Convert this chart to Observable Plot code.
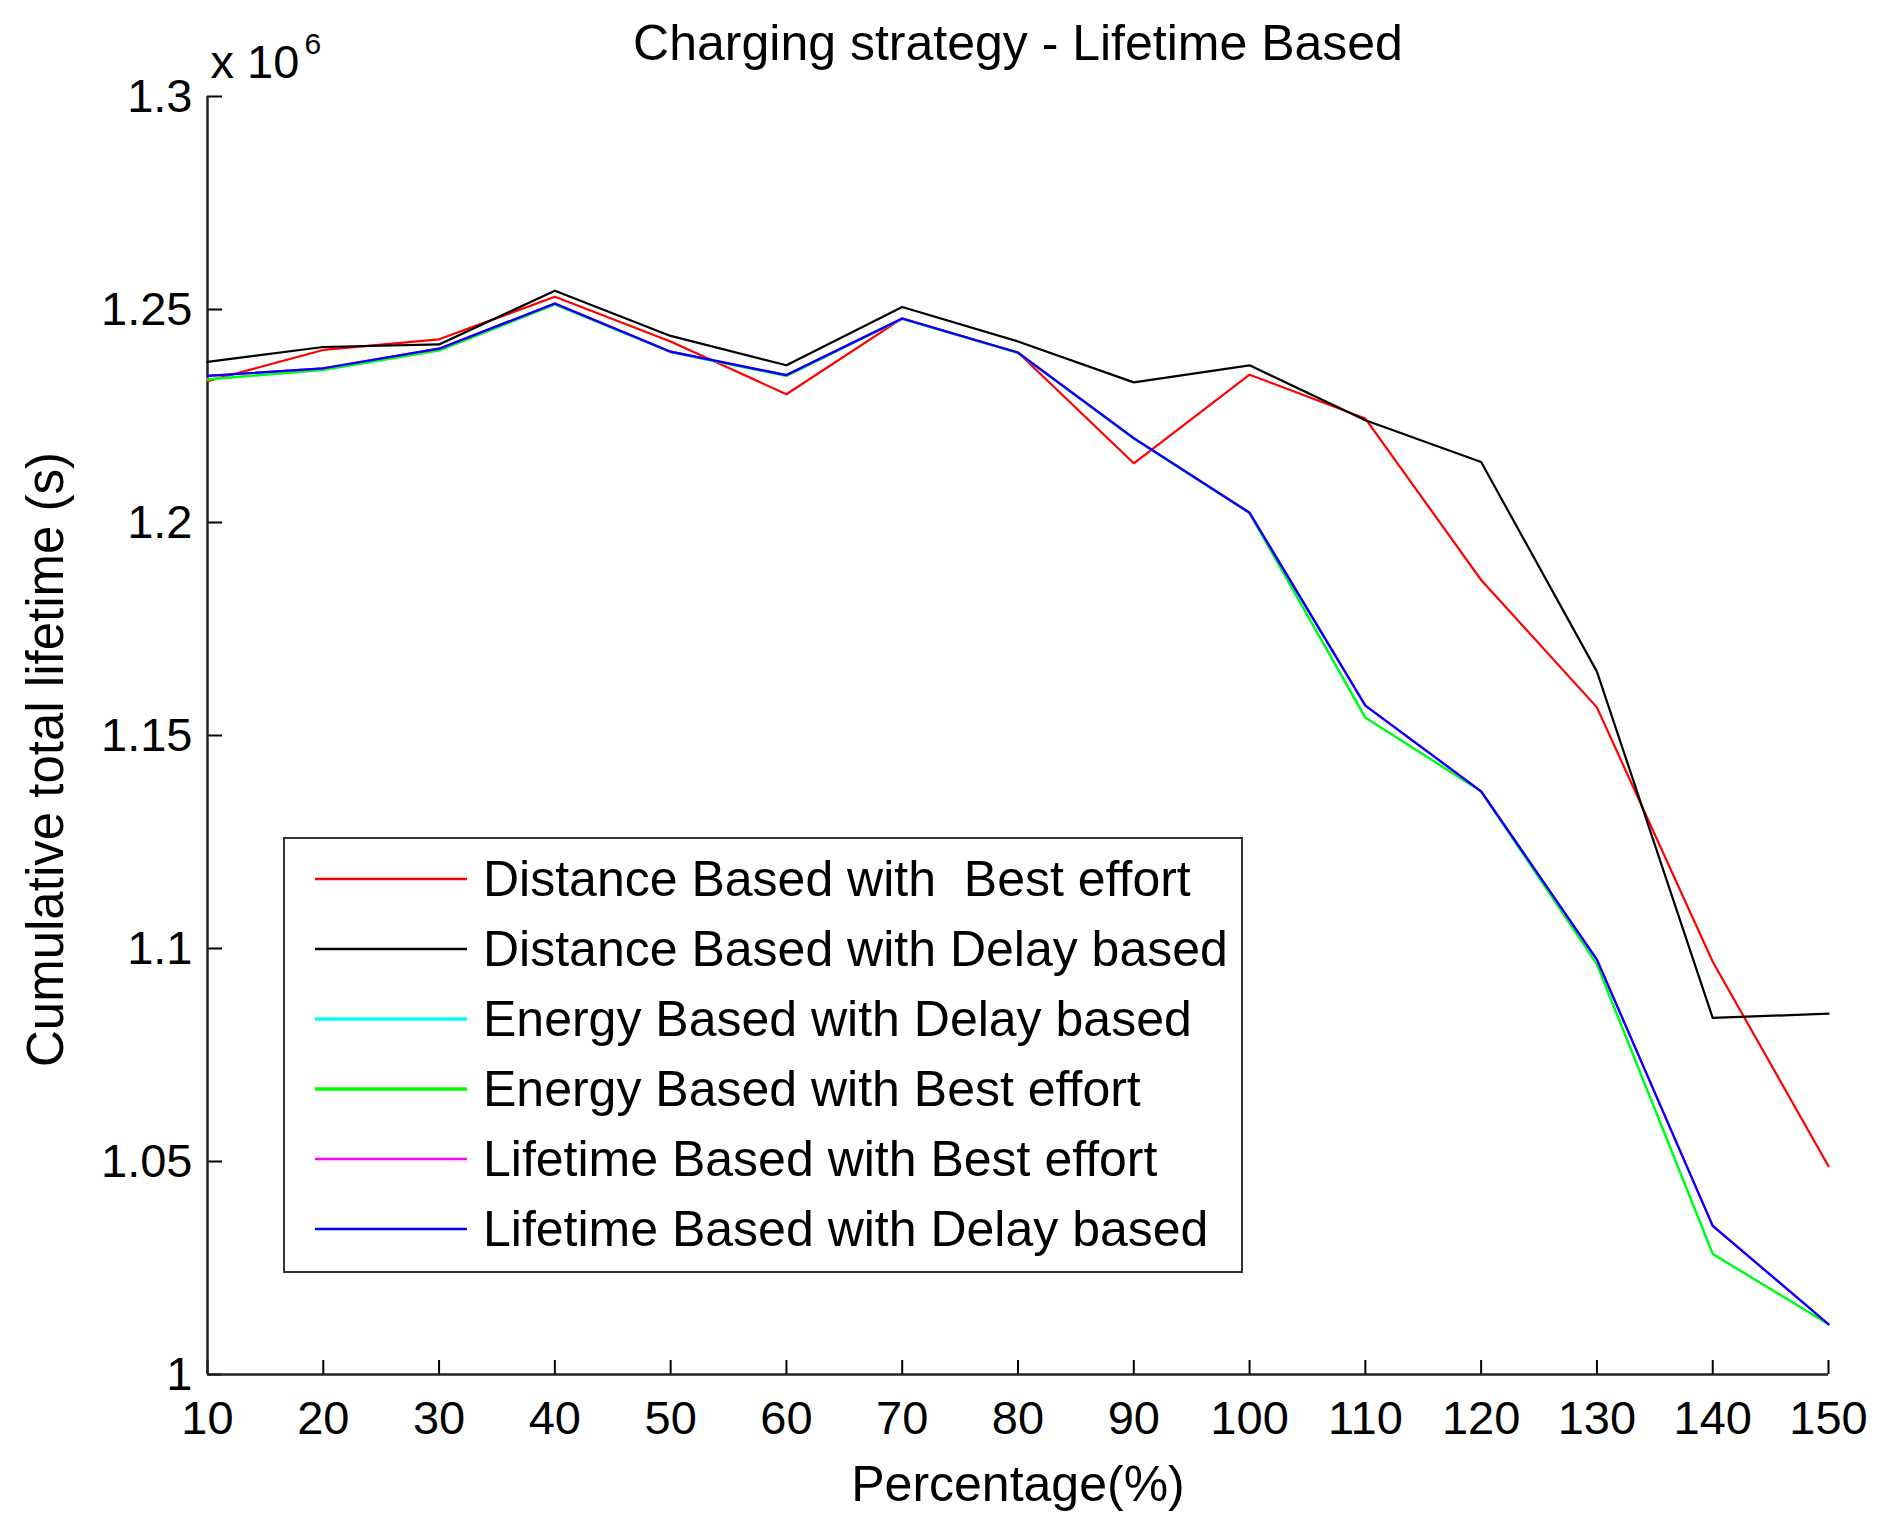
<!DOCTYPE html>
<html>
<head>
<meta charset="utf-8">
<script src="https://cdn.jsdelivr.net/npm/d3@7"></script>
<script src="https://cdn.jsdelivr.net/npm/@observablehq/plot@0.6"></script>
<style>
  html, body { margin: 0; padding: 0; background: #fff; }
  #wrap { position: relative; width: 1884px; height: 1528px; font-family: "Liberation Sans", Arial, sans-serif; }
  #legend { position: absolute; left: 283px; top: 837px; width: 956px; height: 432px; border: 2px solid #333; background: #fff; box-sizing: content-box; }
  .row { position: absolute; left: 0; height: 60px; display: flex; align-items: center; }
  .row svg { margin-left: 30px; }
  .row span { margin-left: 16px; font-size: 50px; color: #000; white-space: pre; }
</style>
</head>
<body>
<div id="wrap"></div>
<script>
// ---- data (values in units of 10^6 s) ----
const percentages = [10, 20, 30, 40, 50, 60, 70, 80, 90, 100, 110, 120, 130, 140, 150];
const distanceBest   = [1.2332, 1.2405, 1.2430, 1.2530, 1.2425, 1.2301, 1.2479, 1.2399, 1.2139, 1.2347, 1.2244, 1.1865, 1.1566, 1.0969, 1.0489];
const distanceDelay  = [1.2377, 1.2412, 1.2418, 1.2544, 1.2438, 1.2369, 1.2506, 1.2425, 1.2329, 1.2369, 1.2240, 1.2142, 1.1650, 1.0837, 1.0847];
const energyDelay    = [1.2336, 1.2358, 1.2404, 1.2512, 1.2400, 1.2344, 1.2478, 1.2398, 1.2197, 1.2022, 1.1542, 1.1369, 1.0963, 1.0283, 1.0118];
const energyBest     = [1.2336, 1.2358, 1.2404, 1.2512, 1.2400, 1.2344, 1.2478, 1.2398, 1.2197, 1.2022, 1.1542, 1.1369, 1.0963, 1.0283, 1.0118];
const lifetimeBest   = [1.2344, 1.2362, 1.2408, 1.2514, 1.2401, 1.2346, 1.2479, 1.2399, 1.2198, 1.2023, 1.1570, 1.1369, 1.0974, 1.0349, 1.0118];
const lifetimeDelay  = [1.2344, 1.2362, 1.2408, 1.2514, 1.2401, 1.2346, 1.2479, 1.2399, 1.2198, 1.2023, 1.1570, 1.1369, 1.0974, 1.0349, 1.0118];

const seriesNames = [
  "Distance Based with  Best effort",
  "Distance Based with Delay based",
  "Energy Based with Delay based",
  "Energy Based with Best effort",
  "Lifetime Based with Best effort",
  "Lifetime Based with Delay based"
];
const seriesColors = ["#ff0000", "#000000", "#00ffff", "#00ff00", "#ff00ff", "#0000ff"];
const seriesValues = [distanceBest, distanceDelay, energyDelay, energyBest, lifetimeBest, lifetimeDelay];

const xTicks = [10, 20, 30, 40, 50, 60, 70, 80, 90, 100, 110, 120, 130, 140, 150];
const yTicks = [1, 1.05, 1.1, 1.15, 1.2, 1.25, 1.3];
const yTickLabels = ["1", "1.05", "1.1", "1.15", "1.2", "1.25", "1.3"];

const titleText = "Charging strategy - Lifetime Based";
const xLabel = "Percentage(%)";
const yLabel = "Cumulative total lifetime (s)";

// ---- build table ----
const rows = seriesNames.flatMap((name, i) =>
  percentages.map((p, j) => ({series: name, x: p, y: seriesValues[i][j]})));

const yFmt = d => yTickLabels[yTicks.findIndex(t => Math.abs(t - d) < 1e-9)];

const chart = Plot.plot({
  width: 1884,
  height: 1528,
  marginLeft: 207,
  marginRight: 56,
  marginTop: 96,
  marginBottom: 154,
  style: {fontFamily: "'Liberation Sans', Arial, sans-serif", fontSize: "47px", background: "#fff", color: "#000", overflow: "visible"},
  x: {domain: [10, 150]},
  y: {domain: [1.0, 1.3]},
  color: {domain: seriesNames, range: seriesColors},
  marks: [
    Plot.axisX(xTicks, {tickSize: -14, tickFormat: () => "", label: null, strokeWidth: 2}),
    Plot.axisX(xTicks, {tickSize: 0, tickPadding: 26, label: null, fontSize: 47}),
    Plot.axisY(yTicks, {tickSize: -15, tickFormat: () => "", label: null, strokeWidth: 2}),
    Plot.axisY(yTicks, {tickSize: 0, tickPadding: 15, tickFormat: yFmt, label: null, fontSize: 47}),
    Plot.ruleX([10], {stroke: "#222", strokeWidth: 2.5}),
    Plot.ruleY([1.0], {stroke: "#222", strokeWidth: 2.5}),
    Plot.line(rows, {x: "x", y: "y", z: "series", stroke: "series", strokeWidth: 2.2}),
    Plot.text([titleText], {frameAnchor: "top", dy: -72, fontSize: 50}),
    Plot.text([xLabel], {frameAnchor: "bottom", dy: 126, fontSize: 50}),
    Plot.text([yLabel], {frameAnchor: "left", textAnchor: "middle", rotate: -90, dx: -161, dy: 24, fontSize: 51}),
    Plot.text(["x 10"], {frameAnchor: "top-left", textAnchor: "start", dx: 3, dy: -52, fontSize: 47}),
    Plot.text(["6"], {frameAnchor: "top-left", textAnchor: "start", dx: 97, dy: -64, fontSize: 30})
  ]
});

const wrap = document.getElementById("wrap");
wrap.appendChild(chart);

// ---- legend ----
const legend = document.createElement("div");
legend.id = "legend";
seriesNames.forEach((name, i) => {
  const row = document.createElement("div");
  row.className = "row";
  row.style.top = (10 + i * 70) + "px";
  const w = (i === 2 || i === 3) ? 3.5 : 2.5;
  row.innerHTML = `<svg width="152" height="10"><line x1="0" y1="5" x2="152" y2="5" stroke="${seriesColors[i]}" stroke-width="${w}"/></svg><span></span>`;
  row.querySelector("span").textContent = name;
  legend.appendChild(row);
});
wrap.appendChild(legend);
</script>
</body>
</html>
